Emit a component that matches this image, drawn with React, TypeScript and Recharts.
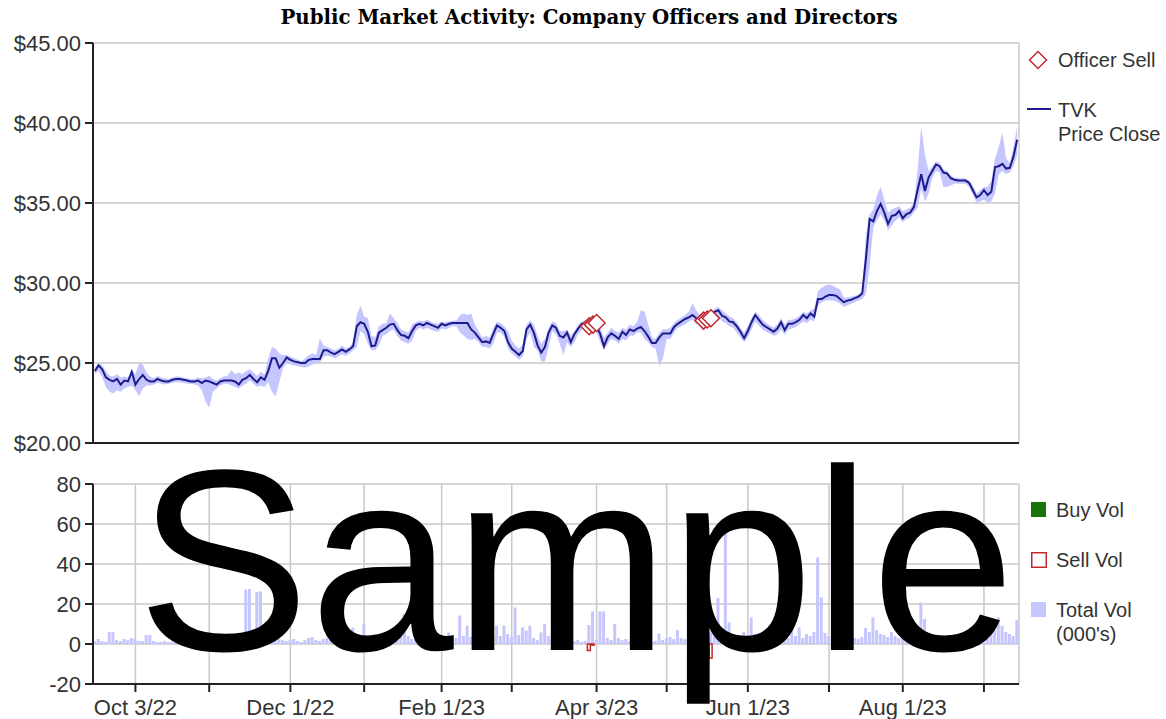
import React from 'react';
import { ComposedChart, Line, Area, Bar, XAxis, YAxis, CartesianGrid } from 'recharts';

// one entry per trading day, Sep 16 2022 .. Sep 14 2023
const closePrice = [
  24.5, 24.85, 24.6, 24.1, 23.95, 23.85, 24.0, 23.65, 23.9, 23.85,
  24.45, 23.65, 24.0, 24.25, 23.95, 23.85, 23.85, 24.0, 23.9, 23.85,
  23.85, 23.95, 24.0, 24.0, 23.95, 23.9, 23.85, 23.85, 23.9, 23.75,
  23.9, 23.85, 23.75, 23.65, 23.85, 23.9, 23.9, 23.9, 23.85, 23.65,
  23.95, 24.05, 24.25, 24.0, 23.8, 24.1, 23.95, 24.5, 25.3, 25.3,
  24.7, 25.0, 25.35, 25.2, 25.1, 25.05, 25.0, 25.0, 25.2, 25.25,
  25.25, 25.25, 25.8, 25.8, 25.65, 25.55, 25.7, 25.85, 25.7, 25.85,
  26.05, 27.3, 27.55, 27.45, 26.95, 26.05, 26.1, 26.9, 27.05, 27.2,
  27.4, 27.45, 27.05, 26.75, 26.7, 26.55, 27.0, 27.35, 27.45, 27.35,
  27.5, 27.4, 27.3, 27.2, 27.45, 27.35, 27.45, 27.5, 27.5, 27.5,
  27.5, 27.5, 27.1, 26.9, 26.6, 26.3, 26.35, 26.25, 26.8, 27.35,
  27.2, 27.0, 26.3, 25.9, 25.7, 25.5, 25.75, 27.1, 27.4, 26.9,
  26.1, 25.65, 26.0, 26.9, 27.35, 27.2, 26.7, 26.6, 26.9, 26.3,
  26.8, 27.15, 27.45, 27.5, 27.6, 27.55, 27.3, 26.8, 26.05, 26.6,
  26.85, 26.7, 26.5, 26.95, 26.75, 27.1, 27.0, 27.15, 27.25, 27.0,
  26.65, 26.25, 26.25, 26.6, 26.85, 26.85, 26.85, 27.25, 27.45, 27.6,
  27.75, 27.85, 28.0, 27.8, 27.75, 27.7, 27.8, 27.85, 28.2, 28.3,
  27.95, 27.85, 27.6, 27.55, 27.3, 26.95, 26.55, 27.0, 27.55, 28.0,
  27.7, 27.4, 27.25, 27.1, 26.95, 27.15, 27.55, 27.05, 27.45, 27.45,
  27.55, 27.7, 28.0, 27.8, 28.1, 27.9, 29.0, 29.0, 29.15, 29.25,
  29.25, 29.2, 29.0, 28.8, 28.9, 28.95, 29.05, 29.15, 29.35, 31.5,
  34.0, 33.85, 34.5, 34.95, 34.4, 33.7, 34.2, 34.25, 34.5, 34.05,
  34.3, 34.4, 34.75, 35.8, 36.8, 35.75, 36.6, 37.0, 37.4, 37.3,
  36.9, 36.85, 36.55, 36.45, 36.4, 36.4, 36.4, 36.25, 35.8, 35.35,
  35.5, 35.8, 35.5, 35.7, 37.25, 37.3, 37.45, 37.15, 37.2, 37.9,
  38.95,
];

const highPrice = [
  24.7, 25.0, 24.85, 24.5, 24.2, 24.15, 24.3, 24.1, 24.15, 24.1,
  24.6, 24.3, 25.0, 24.9, 24.4, 24.15, 24.05, 24.2, 24.1, 24.05,
  24.0, 24.1, 24.15, 24.15, 24.1, 24.05, 24.0, 24.0, 24.1, 24.05,
  24.1, 24.2, 24.0, 23.9, 24.05, 24.15, 24.2, 24.55, 24.3, 24.4,
  24.3, 24.5, 24.6, 24.4, 24.2, 24.45, 24.3, 25.3, 26.0, 25.9,
  25.6, 25.5, 25.5, 25.4, 25.3, 25.2, 25.1, 25.3, 25.5, 25.6,
  25.5, 26.55, 26.1, 26.0, 25.9, 25.8, 25.9, 26.1, 25.9, 26.0,
  26.3, 28.0, 28.6, 27.9, 27.8, 26.7, 26.6, 27.3, 27.45, 27.5,
  28.1, 27.8, 27.5, 27.1, 27.0, 26.9, 27.4, 27.55, 27.65, 27.6,
  27.7, 27.6, 27.5, 27.45, 27.6, 27.55, 27.6, 27.65, 27.65, 28.0,
  28.1, 28.0, 28.1, 27.4, 27.0, 26.6, 26.7, 26.6, 27.2, 27.6,
  27.5, 27.3, 27.0, 26.4, 26.1, 25.9, 26.2, 27.4, 27.65, 27.4,
  26.7, 26.2, 26.5, 27.2, 27.6, 27.5, 27.0, 27.0, 27.1, 26.7,
  27.0, 27.4, 27.6, 27.7, 27.8, 27.75, 27.6, 27.2, 26.6, 26.9,
  27.2, 27.0, 26.9, 27.2, 27.1, 27.4, 27.3, 27.6, 28.3, 28.2,
  27.4, 26.6, 26.5, 26.9, 27.1, 27.1, 27.2, 27.5, 27.7, 27.85,
  28.0, 28.2, 28.75, 28.3, 28.0, 27.95, 28.05, 28.1, 28.4, 28.5,
  28.3, 28.1, 27.9, 27.8, 27.55, 27.2, 26.9, 27.3, 27.8, 28.2,
  28.0, 27.7, 27.5, 27.35, 27.2, 27.4, 27.8, 27.4, 27.7, 27.7,
  27.8, 27.95, 28.2, 28.1, 28.3, 28.4, 29.5, 29.7, 29.85, 29.9,
  29.85, 29.7, 29.6, 29.1, 29.1, 29.15, 29.2, 29.3, 29.5, 33.0,
  34.3, 34.6, 35.5, 36.0, 35.2, 34.4, 34.6, 34.7, 34.8, 34.5,
  34.6, 34.7, 35.0, 37.0, 39.8, 38.0, 37.0, 37.3, 37.6, 37.5,
  37.1, 37.0, 36.7, 36.6, 36.55, 36.55, 36.55, 36.4, 36.1, 35.6,
  35.8, 36.0, 36.0, 36.4, 37.8, 38.5, 39.4, 37.8, 37.5, 38.5,
  39.8,
];

const lowPrice = [
  24.3, 24.5, 24.1, 23.5, 23.2, 23.1, 23.3, 23.2, 23.4, 23.5,
  23.6, 23.3, 22.9, 23.4, 23.6, 23.6, 23.65, 23.75, 23.7, 23.65,
  23.7, 23.75, 23.8, 23.8, 23.75, 23.7, 23.7, 23.65, 23.6, 23.3,
  22.6, 22.2, 23.2, 23.4, 23.6, 23.7, 23.7, 23.6, 23.5, 23.4,
  23.6, 23.7, 23.9, 23.7, 23.5, 23.6, 23.5, 23.8, 23.2, 22.9,
  23.8, 24.7, 25.0, 24.9, 24.85, 24.8, 24.75, 24.7, 24.8, 24.9,
  25.0, 25.0, 25.4, 25.45, 25.4, 25.3, 25.4, 25.55, 25.45, 25.6,
  25.8, 26.0, 27.0, 26.8, 26.2, 25.8, 25.8, 26.1, 26.7, 26.8,
  27.0, 27.1, 26.7, 26.4, 26.3, 26.2, 26.4, 27.0, 27.2, 27.1,
  27.2, 27.1, 27.0, 26.95, 27.15, 27.1, 27.2, 27.3, 27.3, 26.9,
  26.7, 26.5, 26.44, 26.5, 26.3, 26.0, 26.0, 25.9, 26.2, 26.9,
  26.9, 26.6, 25.9, 25.6, 25.4, 25.2, 25.4, 26.5, 26.9, 26.0,
  25.8, 25.1, 25.1, 26.0, 27.0, 26.8, 26.2, 25.5, 26.3, 26.0,
  26.3, 26.8, 27.1, 27.2, 27.3, 27.25, 26.9, 26.3, 25.8, 26.2,
  26.5, 26.4, 26.2, 26.5, 26.4, 26.7, 26.7, 26.9, 26.9, 26.5,
  26.3, 26.0, 25.9, 24.8, 25.3, 26.5, 26.5, 26.9, 27.2, 27.3,
  27.4, 27.6, 27.7, 27.4, 27.5, 27.4, 27.5, 27.55, 27.9, 27.95,
  27.6, 27.5, 27.3, 27.2, 26.9, 26.6, 26.3, 26.6, 27.1, 27.6,
  27.35, 27.1, 26.95, 26.85, 26.7, 26.8, 27.1, 26.75, 27.1, 27.15,
  27.25, 27.4, 27.6, 27.5, 27.7, 27.6, 28.6, 28.8, 28.9, 28.9,
  28.9, 28.85, 28.7, 28.5, 28.6, 28.7, 28.8, 28.9, 29.0, 29.3,
  31.0, 33.5, 33.9, 34.3, 33.9, 33.3, 33.6, 33.9, 34.1, 33.8,
  34.0, 34.1, 34.4, 34.7, 35.9, 35.1, 35.6, 36.6, 37.0, 36.9,
  36.0, 36.0, 36.1, 36.2, 36.2, 36.2, 36.2, 36.0, 35.5, 35.0,
  35.1, 35.2, 35.0, 35.1, 35.6, 36.8, 37.0, 36.8, 36.9, 37.3,
  38.0,
];

// total volume, thousands of shares
const totalVol = [
  1.5, 2.5, 1.5, 1.0, 6.0, 6.0, 2.0, 1.5, 2.5, 2.0,
  3.0, 2.5, 1.5, 1.5, 4.5, 4.5, 1.5, 1.0, 1.0, 1.5,
  1.0, 1.2, 1.5, 2.0, 1.0, 1.5, 2.5, 1.0, 1.5, 2.0,
  3.0, 2.0, 1.5, 2.5, 1.0, 1.5, 2.0, 3.0, 2.0, 1.5,
  2.5, 27.2, 27.5, 3.0, 26.0, 26.3, 3.5, 2.5, 4.0, 3.0,
  2.5, 2.0, 1.5, 2.0, 2.5, 1.5, 1.0, 2.0, 3.0, 3.5,
  2.0, 1.5, 2.5, 3.0, 4.0, 2.0, 1.5, 3.5, 5.0, 4.0,
  8.3, 3.0, 2.5, 10.3, 4.0, 3.0, 5.0, 2.5, 3.0, 4.5,
  6.0, 3.0, 4.0, 5.5, 15.0, 4.0, 2.5, 3.5, 3.0, 4.0,
  2.5, 3.0, 5.0, 3.5, 4.0, 3.0, 5.8, 4.0, 3.0, 14.2,
  4.0, 9.2, 3.5, 2.5, 4.0, 3.0, 2.0, 3.0, 4.0, 9.2,
  4.0, 9.2, 5.0, 3.5, 18.3, 4.5, 8.3, 6.7, 9.2, 3.0,
  2.0, 5.8, 10.0, 4.0, 3.0, 2.5, 2.0, 1.5, 1.5, 1.0,
  1.5, 2.0, 1.0, 1.5, 9.5, 16.3, 2.0, 16.3, 16.3, 3.0,
  2.0, 10.0, 3.0, 2.0, 2.5, 1.5, 2.0, 1.5, 1.0, 1.5,
  2.0, 1.0, 1.5, 5.3, 2.0, 3.0, 3.5, 2.5, 7.0, 3.0,
  2.5, 3.5, 4.0, 5.0, 3.5, 4.5, 6.0, 8.0, 5.0, 23.0,
  4.0, 57.0, 10.8, 4.0, 3.0, 2.5, 6.0, 4.0, 13.3, 5.0,
  3.0, 4.5, 3.5, 6.0, 4.5, 3.0, 2.5, 5.0, 3.0, 7.5,
  4.0, 8.3, 3.0, 5.0, 4.0, 6.0, 43.3, 23.3, 5.5, 4.0,
  3.5, 2.5, 3.0, 5.0, 2.5, 4.0, 3.0, 2.5, 3.5, 8.0,
  6.0, 13.3, 7.0, 5.0, 4.5, 3.5, 6.0, 4.0, 3.0, 5.5,
  3.5, 4.0, 5.0, 7.0, 20.8, 12.5, 4.0, 3.5, 3.0, 2.5,
  3.0, 2.5, 4.0, 3.0, 2.5, 3.5, 3.0, 4.0, 5.0, 3.0,
  4.5, 3.5, 6.0, 5.0, 7.0, 13.3, 9.0, 6.0, 5.0, 4.0,
  12.0,
];

const sellVolDays = [134, 135, 166, 167];
const sellVolAmt = [-3.3, -0.6, -7.0, -7.0];

const officerSellDays = [134, 135, 136, 165, 166, 167];
const officerSellPrice = [27.3, 27.4, 27.5, 27.65, 27.72, 27.8];

// first trading day of each month
const monthTicks = [11, 31, 53, 73, 94, 113, 136, 155, 177, 199, 219, 241];
const monthLabels = ['Oct 3/22', '', 'Dec 1/22', '', 'Feb 1/23', '', 'Apr 3/23', '', 'Jun 1/23', '', 'Aug 1/23', ''];

const priceTicks = [20, 25, 30, 35, 40, 45];
const volTicks = [-20, 0, 20, 40, 60, 80];

const priceRows = closePrice.map((c, i) => {
  const k = officerSellDays.indexOf(i);
  return { i, close: c, range: [lowPrice[i], highPrice[i]], sell: k >= 0 ? officerSellPrice[k] : null };
});

const volRows = totalVol.map((v, i) => {
  const k = sellVolDays.indexOf(i);
  return { i, total: v, sell: k >= 0 ? sellVolAmt[k] : 0 };
});

const FONT = 'Liberation Sans, Arial, sans-serif';
const AXIS = { stroke: '#222', strokeWidth: 2 };
const GRID = '#c8c8c8';
const NAVY = '#1c1c8c';
const BAND = '#c6c6ff';
const RED = '#c0282d';
const X_DOMAIN = [-0.5, 250.5];

const tickStyle = { fontSize: 22, fill: '#333', fontFamily: FONT };

function renderDiamond(props: any) {
  const { cx, cy, value, index } = props;
  if (value == null || cy == null || isNaN(cy)) return <g key={`d-${index}`} />;
  const r = 8.5;
  return (
    <path
      key={`d-${index}`}
      d={`M${cx},${cy - r}L${cx + r},${cy}L${cx},${cy + r}L${cx - r},${cy}Z`}
      fill="#fff"
      stroke={RED}
      strokeWidth={1.5}
    />
  );
}

// only the labelled months get a text element
function MonthTick(props: any) {
  const { x, y, payload } = props;
  const label = monthLabels[monthTicks.indexOf(payload.value)];
  if (!label) return <g />;
  return (
    <text x={x} y={y} dy="0.71em" textAnchor="middle" {...tickStyle}>
      {label}
    </text>
  );
}

function PriceChart() {
  return (
    <ComposedChart width={1166} height={430} data={priceRows} margin={{ top: 13, right: 147, bottom: 0, left: 0 }}>
      <CartesianGrid stroke={GRID} strokeWidth={1.5} />
      <XAxis
        dataKey="i"
        type="number"
        domain={X_DOMAIN}
        ticks={monthTicks}
        interval={0}
        tick={false}
        tickSize={8}
        height={17}
        axisLine={AXIS}
        tickLine={AXIS}
      />
      <XAxis xAxisId="top" orientation="top" type="number" domain={X_DOMAIN} tick={false} tickLine={false} height={0} axisLine={AXIS} />
      <YAxis
        domain={[20, 45]}
        ticks={priceTicks}
        width={93}
        tickSize={8}
        tickMargin={4}
        tick={tickStyle}
        tickFormatter={(v: number) => `$${v.toFixed(2)}`}
        axisLine={AXIS}
        tickLine={AXIS}
      />
      <YAxis yAxisId="right" orientation="right" domain={[20, 45]} width={0} tick={false} tickLine={false} axisLine={AXIS} />
      <Area dataKey="range" stroke="none" fill={BAND} fillOpacity={1} isAnimationActive={false} />
      <Line dataKey="close" stroke={NAVY} strokeWidth={2} dot={false} isAnimationActive={false} />
      <Line dataKey="sell" stroke="none" dot={renderDiamond} activeDot={false} isAnimationActive={false} />
    </ComposedChart>
  );
}

function VolumeChart() {
  return (
    <ComposedChart
      width={1166}
      height={249}
      data={volRows}
      stackOffset="sign"
      margin={{ top: 14, right: 147, bottom: 0, left: 0 }}
    >
      <CartesianGrid stroke={GRID} strokeWidth={1.5} />
      <XAxis
        dataKey="i"
        type="number"
        domain={X_DOMAIN}
        ticks={monthTicks}
        interval={0}
        tickSize={8}
        tickMargin={7}
        height={35}
        tick={<MonthTick />}
        axisLine={AXIS}
        tickLine={AXIS}
      />
      <XAxis xAxisId="top" orientation="top" type="number" domain={X_DOMAIN} tick={false} tickLine={false} height={0} axisLine={AXIS} />
      <YAxis
        domain={[-20, 80]}
        ticks={volTicks}
        width={93}
        tickSize={8}
        tickMargin={4}
        tick={tickStyle}
        axisLine={AXIS}
        tickLine={AXIS}
      />
      <YAxis yAxisId="right" orientation="right" domain={[-20, 80]} width={0} tick={false} tickLine={false} axisLine={AXIS} />
      <Bar dataKey="total" stackId="v" fill={BAND} barSize={3} isAnimationActive={false} />
      <Bar dataKey="sell" stackId="v" fill="#fff" stroke={RED} strokeWidth={1.5} barSize={3} isAnimationActive={false} />
    </ComposedChart>
  );
}

function Legends() {
  const txt = { fontFamily: FONT, fontSize: 20, fill: '#333', dominantBaseline: 'central' as const };
  return (
    <svg width={1166} height={719} style={{ position: 'absolute', left: 0, top: 0 }}>
      <path d="M1038,51.5L1046.5,60L1038,68.5L1029.5,60Z" fill="#fff" stroke={RED} strokeWidth={1.5} />
      <text x={1058} y={60} {...txt}>Officer Sell</text>
      <line x1={1027} y1={109} x2={1051} y2={109} stroke={NAVY} strokeWidth={2} />
      <text x={1058} y={110} {...txt}>TVK</text>
      <text x={1058} y={134} {...txt}>Price Close</text>

      <rect x={1031} y={502} width={15} height={15} fill="#1a7409" />
      <text x={1056} y={510} {...txt}>Buy Vol</text>
      <rect x={1031.75} y={552.75} width={14.5} height={14.5} fill="#fff" stroke={RED} strokeWidth={1.5} />
      <text x={1056} y={560} {...txt}>Sell Vol</text>
      <rect x={1031} y={602} width={15} height={15} fill={BAND} />
      <text x={1056} y={610} {...txt}>Total Vol</text>
      <text x={1056} y={634} {...txt}>(000's)</text>
    </svg>
  );
}

export default function App() {
  return (
    <div style={{ position: 'absolute', left: 0, top: 0, width: 1166, height: 719, background: '#fff', overflow: 'hidden' }}>
      <svg width={1166} height={30} style={{ position: 'absolute', left: 0, top: 0 }}>
        <text x={589} y={24} textAnchor="middle" fontFamily="DejaVu Serif, serif" fontWeight="bold" fontSize={19.8} fill="#000">
          Public Market Activity: Company Officers and Directors
        </text>
      </svg>
      <div style={{ position: 'absolute', left: 0, top: 30 }}>
        <PriceChart />
      </div>
      <div style={{ position: 'absolute', left: 0, top: 470 }}>
        <VolumeChart />
      </div>
      <Legends />
      <svg width={1166} height={719} style={{ position: 'absolute', left: 0, top: 0, pointerEvents: 'none' }}>
        <text x={576} y={650} textAnchor="middle" fontFamily={FONT} fontSize={259} fill="#000">
          Sample
        </text>
      </svg>
    </div>
  );
}
